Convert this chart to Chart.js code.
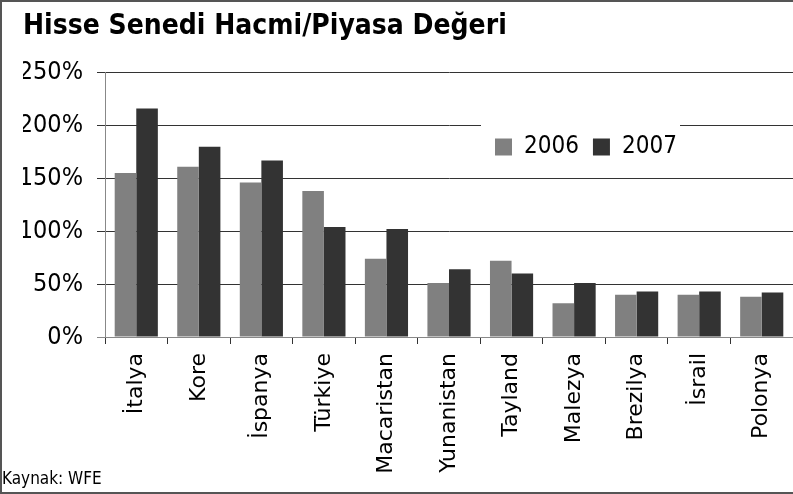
<!DOCTYPE html>
<html>
<head>
<meta charset="utf-8">
<script src="https://cdn.jsdelivr.net/npm/chart.js@4.4.0/dist/chart.umd.min.js"></script>
<style>
  html, body { margin: 0; padding: 0; background: #fff; }
  #wrap { width: 793px; height: 494px; position: relative; }
</style>
</head>
<body>
<div id="wrap"><canvas id="volumeBar"></canvas></div>
<script>
// Data ==================================
const countries = ['İtalya', 'Kore', 'İspanya', 'Türkiye', 'Macaristan', 'Yunanistan',
  'Tayland', 'Malezya', 'Brezilya', 'İsrail', 'Polonya'];
const values2006 = [155, 161, 146, 138, 74, 51, 72, 32, 40, 40, 38];
const values2007 = [216, 180, 167, 104, 102, 64, 60, 51, 43, 43, 42];
const seriesNames = ['2006', '2007'];
const yTicks = [0, 50, 100, 150, 200, 250];
const chartTitle = 'Hisse Senedi Hacmi/Piyasa Değeri';
const sourceNote = 'Kaynak: WFE';

const condensed = "'DejaVu Sans Condensed', 'DejaVu Sans', sans-serif";

Chart.defaults.font.family = condensed;
Chart.defaults.color = '#000';

// Plugins ===============================

// shift the (1px tall) top legend down into the plot
const legendSpot = {
  id: 'legendSpot',
  afterLayout(chart) {
    const lg = chart.legend;
    lg.left = 481;
    lg.right = chart.width;
    lg.top = 121;
    lg.bottom = 171;
    lg.height = 50;
  },
  // white patch over the grid behind the legend, then the legend again
  beforeDatasetsDraw(chart) {
    const ctx = chart.ctx;
    ctx.save();
    ctx.fillStyle = '#fff';
    ctx.fillRect(481, 115, 199, 55);
    ctx.restore();
    chart.legend.draw();
  }
};

// outer frame and source note
const frameNote = {
  id: 'frameNote',
  afterDraw(chart) {
    const ctx = chart.ctx;
    ctx.save();
    ctx.strokeStyle = '#555';
    ctx.lineWidth = 2;
    ctx.strokeRect(1, 1, chart.width + 2, chart.height - 2);
    ctx.fillStyle = '#000';
    ctx.font = '17px ' + condensed;
    ctx.textBaseline = 'alphabetic';
    ctx.fillText(sourceNote, 2, 484);
    ctx.restore();
  }
};

// Chart =================================
const volumeBar = new Chart(document.getElementById('volumeBar'), {
  type: 'bar',
  data: {
    labels: countries,
    datasets: [
      { label: seriesNames[0], data: values2006, backgroundColor: '#808080' },
      { label: seriesNames[1], data: values2007, backgroundColor: '#333333' }
    ]
  },
  options: {
    responsive: true,
    maintainAspectRatio: false,
    animation: false,
    devicePixelRatio: 1,
    categoryPercentage: 0.69,
    barPercentage: 1.0,
    layout: { padding: { left: 23, right: 0, top: 0, bottom: 0 } },
    plugins: {
      title: {
        display: true,
        text: chartTitle,
        align: 'start',
        color: '#000',
        font: { family: condensed, size: 28, weight: 'bold', lineHeight: 1.2 },
        padding: { top: 10, bottom: 28 }
      },
      legend: {
        position: 'top',
        align: 'start',
        maxHeight: 1,
        labels: {
          boxWidth: 17,
          boxHeight: 17,
          padding: 14,
          color: '#000',
          font: { family: condensed, size: 24 }
        }
      },
      tooltip: { enabled: false }
    },
    scales: {
      x: {
        grid: {
          drawOnChartArea: false,
          drawTicks: true,
          tickLength: 7,
          color: '#333'
        },
        border: { color: '#888', width: 1 },
        ticks: {
          minRotation: 90,
          maxRotation: 90,
          padding: 9,
          autoSkip: false,
          color: '#000',
          font: { family: "'DejaVu Sans', sans-serif", size: 22 }
        },
        afterFit(scale) {
          scale.height = 157;
          scale.paddingLeft = 0;
          scale.paddingRight = 0;
        }
      },
      y: {
        min: 0,
        max: 250,
        afterBuildTicks(scale) {
          scale.ticks = yTicks.map(v => ({ value: v }));
        },
        grid: {
          color: ctx => (ctx.tick && ctx.tick.value === 0 ? '#888' : '#333'),
          tickLength: 8
        },
        border: { color: '#888', width: 1 },
        ticks: {
          padding: 14,
          color: '#000',
          font: { family: condensed, size: 25 },
          callback: v => v + '%'
        },
        afterFit(scale) {
          scale.width = 82;
        }
      }
    }
  },
  plugins: [legendSpot, frameNote]
});
</script>
</body>
</html>
